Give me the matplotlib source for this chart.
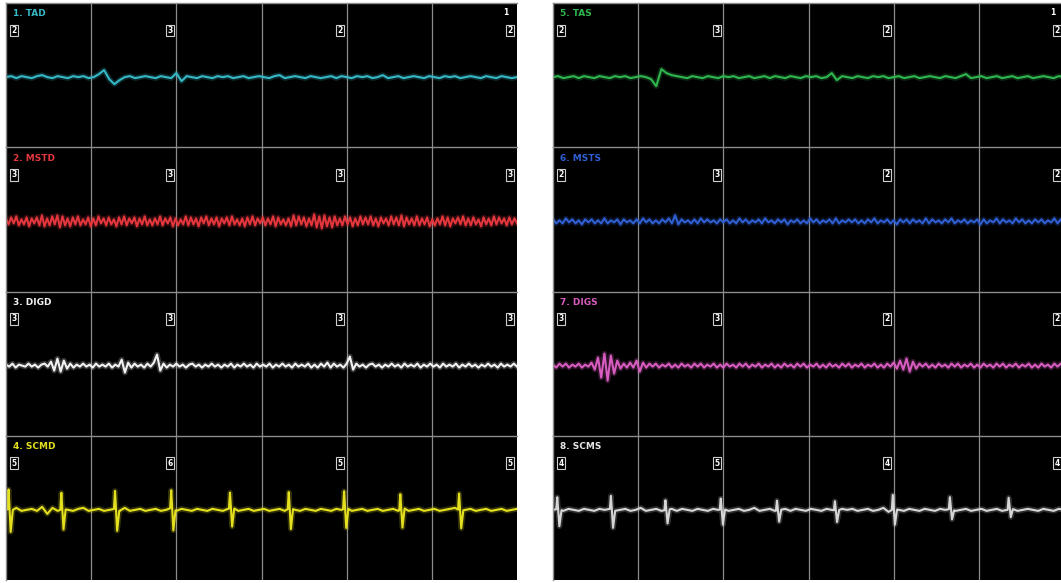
import numpy as np
import matplotlib
matplotlib.use("Agg")
import matplotlib.pyplot as plt

# ---- channel definitions -------------------------------------------------
left_names = ["1. TAD", "2. MSTD", "3. DIGD", "4. SCMD"]
right_names = ["5. TAS", "6. MSTS", "7. DIGS", "8. SCMS"]

left_colors = ["#36b8c6", "#e3363d", "#f2f2f2", "#e4e01f"]
right_colors = ["#30b64f", "#2f5fd2", "#d95cc0", "#d6d6d6"]
left_label_colors = ["#36b8c6", "#e3363d", "#f2f2f2", "#e4e01f"]
right_label_colors = ["#30b64f", "#2f5fd2", "#d95cc0", "#e6e6e6"]

# amplitude readouts shown in the small boxes (left edge, div 2, div 4, div 6)
left_boxes = [["2", "3", "2", "2"], ["3", "3", "3", "3"],
              ["3", "3", "3", "3"], ["5", "6", "5", "5"]]
right_boxes = [["2", "3", "2", "2"], ["2", "3", "2", "2"],
               ["3", "3", "2", "2"], ["4", "5", "4", "4"]]

# ---- sampled signals (uV), evenly spaced over 6 divisions -----------------
tad = [0, 1, -1, 1, 0, -1, 1, 2, 0, -1,
       1, 0, -1, 1, 0, 1, -1, 0, 3, 7,
       -2, -7, -3, 0, 1, -1, 0, 1, 0, -1,
       1, 0, -1, 4, -4, 1, 0, -1, 1, 0,
       -1, 1, 0, 1, -1, 0, 1, -1, 0, 1,
       0, -1, 1, 2, -1, 0, 1, 0, -1, 1,
       0, -1, 0, 1, -1, 1, 0, -1, 1, 0,
       1, -1, 0, 2, -1, 0, 1, -1, 0, 1,
       0, -1, 1, 0, -1, 1, 0, 1, -1, 0,
       1, 0, -1, 1, 0, -1, 1, 0, -1, 0]

mstd = [3, -3, 4, -2, 5, -4, 2, -3, 4, -5, 3, -2, 4, -4, 6, -5, 3, -4, 5, -3,
        6, -6, 5, -4, 3, -5, 4, -3, 5, -4, 2, -3, 4, -5, 3, -4, 5, -2, 3, -4,
        4, -3, 2, -5, 4, -3, 5, -4, 3, -2, 4, -5, 3, -3, 5, -4, 2, -4, 3, -3,
        5, -4, 3, -2, 4, -5, 3, -4, 2, -3, 5, -4, 4, -3, 3, -5, 4, -2, 5, -4,
        3, -3, 4, -5, 3, -2, 4, -4, 5, -3, 2, -4, 3, -5, 4, -3, 5, -4, 3, -2,
        4, -4, 3, -3, 5, -5, 4, -3, 2, -4, 3, -5, 6, -4, 5, -3, 4, -5, 3, -4,
        7, -6, 5, -7, 6, -5, 4, -6, 5, -4, 3, -4, 5, -3, 4, -5, 3, -4, 5, -3,
        4, -3, 5, -4, 3, -5, 4, -2, 3, -4, 5, -3, 4, -4, 6, -5, 4, -3, 3, -4,
        5, -4, 3, -3, 4, -5, 2, -4, 3, -3, 5, -4, 4, -5, 3, -2, 4, -3, 5, -4,
        3, -4, 4, -3, 2, -5, 4, -3, 3, -4, 5, -3, 4, -2, 3, -4, 4, -3, 3, -2]

digd = [1, -1, 2, -2, 1, 0, -1, 2, -1, 1, -2, 1, 2, -1, 4, -5,
        7, -6, 5, -3, 2, -2, 1, -1, 2, -1, 1, -2, 2, -1, 1, -1,
        2, -2, 1, -1, 6, -7, 3, -2, 2, -1, 1, -2, 2, -1, 3, 11,
        -5, 2, -2, 1, -1, 2, -1, 1, -2, 1, 2, -1, 1, -2, 1, -1,
        2, -1, 1, -2, 1, -1, 2, -2, 1, -1, 2, -1, 1, -2, 2, -1,
        1, -1, 2, -2, 1, -1, 2, -1, 1, -2, 2, -1, 1, -1, 2, -2,
        1, -2, 2, -1, 3, -2, 2, -1, 1, -2, 2, 9, -4, 2, -1, 1,
        -2, 1, 2, -1, 1, -2, 1, -1, 2, -1, 1, -2, 2, -1, 1, -1,
        2, -2, 1, -1, 2, -1, 1, -2, 2, -1, 1, -1, 2, -2, 1, -1,
        2, -1, 1, -2, 1, -1, 2, -1, 1, -2, 2, -1, 1, -1, 2, -1]

scmd = [1, -1, 2, -1, 0, 1, -1, 3, -4, 2,
        -1, 1, 0, -1, 1, 2, -1, 0, 1, -1,
        0, 1, -1, 2, -1, 0, 1, -1, 0, 1,
        -1, 0, 2, -1, 1, 0, -1, 1, 0, -1,
        1, 0, -1, 1, 2, -1, 0, 1, -1, 0,
        1, -1, 0, 1, -1, 2, 0, -1, 1, 0,
        -1, 1, 0, -1, 1, 0, 2, -1, 0, 1,
        -1, 0, 1, -1, 0, 1, -1, 2, -1, 0,
        1, -1, 0, 1, -1, 0, 1, 2, -1, 0,
        1, -1, 0, 1, -1, 0, 1, -1, 0, 1]

tas = [0, 1, -1, 0, 1, -1, 1, 0, -1, 1,
       0, -1, 1, 0, 1, -1, 0, 1, 0, -2,
       -9, 8, 4, 2, 1, 0, -1, 1, 0, -1,
       1, 0, -1, 1, 0, 1, -1, 0, 1, -1,
       0, 1, -1, 1, 0, -1, 1, 0, -1, 1,
       0, 1, -1, 0, 4, -3, 1, 0, -1, 1,
       0, -1, 1, 0, 1, -1, 0, 1, -1, 0,
       1, -1, 0, 1, 0, -1, 1, 0, -1, 1,
       3, -1, 0, 1, -1, 0, 1, -1, 0, 1,
       -1, 0, 1, -1, 0, 1, 0, -1, 1, 0]

msts = [2, -2, 1, -2, 3, -1, 2, -2, 1, -3, 2, -1, 2, -2, 1, -2,
        3, -2, 1, -1, 2, -3, 2, -1, 1, -2, 2, -2, 3, -1, 2, -2,
        1, -2, 2, -1, 3, -2, 6, -3, 2, -1, 1, -2, 2, -2, 3, -1,
        2, -1, 1, -2, 2, -1, 2, -2, 1, -2, 3, -1, 2, -2, 1, -1,
        2, -2, 3, -1, 1, -2, 2, -1, 2, -3, 1, -1, 2, -2, 1, -2,
        3, -1, 2, -2, 1, -1, 2, -2, 3, -2, 1, -1, 2, -1, 2, -2,
        1, -2, 2, -1, 3, -2, 1, -1, 2, -2, 1, -3, 2, -1, 2, -2,
        2, -1, 1, -2, 3, -2, 2, -1, 1, -2, 2, -1, 3, -2, 1, -1,
        2, -2, 1, -1, 2, -3, 2, -2, 1, -1, 3, -2, 2, -1, 1, -2,
        3, -1, 2, -2, 1, -2, 2, -1, 2, -2, 1, -1, 3, -2, 2, -1]

digs = [1, -2, 2, -1, 2, -2, 1, -1, 2, -2, 1, -1, 3, -4, 8, -12,
        12, -15, 10, -8, 5, -3, 2, -2, 3, -2, 5, -6, 3, -2, 2, -1,
        2, -2, 1, -1, 2, -2, 1, -2, 2, -1, 1, -2, 2, -1, 2, -2,
        1, -1, 2, -2, 1, -2, 2, -1, 1, -2, 2, -1, 2, -2, 1, -1,
        2, -2, 1, -1, 2, -2, 1, -2, 2, -1, 1, -2, 2, -1, 2, -2,
        1, -1, 2, -2, 1, -2, 2, -1, 1, -2, 2, -1, 2, -2, 1, -1,
        2, -2, 1, -1, 2, -2, 1, -2, 2, -1, 3, -3, 5, -4, 7, -6,
        4, -3, 2, -1, 2, -2, 1, -2, 2, -1, 1, -2, 2, -1, 2, -2,
        1, -1, 2, -2, 1, -2, 2, -1, 1, -2, 2, -1, 2, -2, 1, -1,
        2, -2, 1, -1, 2, -2, 1, -2, 2, -1, 1, -2, 2, -1, 2, -1]

scms = [0, 1, -1, 1, 0, -1, 1, 0, -1, 1,
        0, 1, -1, 0, 1, -1, 0, 2, -1, 0,
        1, -1, 0, 1, -1, 1, 0, -1, 1, 0,
        -1, 1, 0, 1, -1, 0, 1, -1, 0, 2,
        -1, 0, 1, -1, 0, 1, -1, 1, 0, -1,
        1, 0, -1, 1, 0, -1, 1, 0, 1, -1,
        0, 1, -1, 0, 2, -2, 1, 0, -1, 1,
        0, -1, 1, 0, -1, 1, 0, 1, -1, 0,
        1, -1, 0, 1, -1, 0, 1, -1, 0, 1,
        -1, 0, 1, 0, -1, 1, 0, -1, 1, 0]

# cardiac (ECG) artefact spikes picked up on the SCM channels
scmd_spike_t = [0.03, 0.65, 1.28, 1.94, 2.63, 3.32, 3.97, 4.63, 5.32]
scmd_spike_up = [20, 17, 18, 18, 16, 17, 18, 16, 16]
scmd_spike_down = [22, 20, 20, 20, 18, 20, 19, 19, 18]

scms_spike_t = [0.05, 0.68, 1.32, 1.97, 2.63, 3.31, 3.99, 4.66, 5.35]
scms_spike_up = [12, 13, 10, 11, 10, 9, 15, 12, 12]
scms_spike_down = [16, 17, 14, 15, 12, 12, 15, 9, 8]

left_signals = [tad, mstd, digd, scmd]
right_signals = [tas, msts, digs, scms]
left_spikes = [None, None, None, (scmd_spike_t, scmd_spike_up, scmd_spike_down)]
right_spikes = [None, None, None, (scms_spike_t, scms_spike_up, scms_spike_down)]


def build_trace(samples, spikes=None):
    t = np.linspace(0, 6, len(samples))
    y = np.asarray(samples, dtype=float)
    if spikes is not None:
        st, up, down = (np.asarray(v, dtype=float) for v in spikes)
        base_pre = np.interp(st - 0.012, t, y)
        base_post = np.interp(st + 0.05, t, y)
        t = np.concatenate([t, st - 0.012, st, st + 0.025, st + 0.05])
        y = np.concatenate([y, base_pre, base_pre + up, base_post - down, base_post])
        order = np.argsort(t, kind="stable")
        t, y = t[order], y[order]
        # drop original samples that fall inside a spike window
        keep = np.ones(len(t), dtype=bool)
        for s in st:
            inside = (t > s - 0.012) & (t < s + 0.05)
            inside &= ~np.isin(t, [s, s + 0.025])
            keep &= ~inside
        t, y = t[keep], y[keep]
    return t, y


# ---- figure ----------------------------------------------------------------
W, H = 1061, 583
fig = plt.figure(figsize=(W / 100, H / 100), dpi=100, facecolor="white")

panel_w = 511.0
row_h = 144.25
top0 = 3.0
grid_col = "#8c8c8c"


def draw_panel(x_left, names, colors, label_colors, signals, spikes, boxes):
    for i in range(4):
        top = top0 + i * row_h
        ax = fig.add_axes([x_left / W, 1 - (top + row_h) / H, panel_w / W, row_h / H])
        ax.set_facecolor("black")
        ax.set_xlim(0, 6)
        ax.set_ylim(-70, 74)
        ax.set_xticks([1, 2, 3, 4, 5])
        ax.set_yticks([])
        ax.tick_params(length=0, labelbottom=False, labelleft=False)
        ax.grid(axis="x", color=grid_col, lw=0.9)
        for side in ("right", "bottom"):
            ax.spines[side].set_visible(False)
        for side in ("top", "left"):
            ax.spines[side].set_color(grid_col)
            ax.spines[side].set_linewidth(1.0)

        t, y = build_trace(signals[i], spikes[i])
        ax.plot(t, y, color=colors[i], lw=4.0, alpha=0.22, solid_joinstyle="round")
        ax.plot(t, y, color=colors[i], lw=1.5, solid_joinstyle="round")

        ax.text(0.014, 0.925, names[i], transform=ax.transAxes, color=label_colors[i],
                fontsize=6.5, fontweight="bold", ha="left", va="center")

        box_x = [0.016, 2 / 6 - 0.013, 4 / 6 - 0.013, 1 - 0.013]
        for bx, val in zip(box_x, boxes[i]):
            ax.text(bx, 0.81, val, transform=ax.transAxes, color="white",
                    fontsize=5.5, fontweight="bold", ha="center", va="center",
                    bbox=dict(boxstyle="square,pad=0.18", fc="black",
                              ec="#cfcfcf", lw=0.8))
        if i == 0:
            ax.text(1 - 0.022, 0.935, "1", transform=ax.transAxes, color="white",
                    fontsize=5.5, fontweight="bold", ha="center", va="center")


draw_panel(6, left_names, left_colors, left_label_colors, left_signals,
           left_spikes, left_boxes)
draw_panel(553, right_names, right_colors, right_label_colors, right_signals,
           right_spikes, right_boxes)

fig.savefig("out.png", dpi=100, facecolor="white")
